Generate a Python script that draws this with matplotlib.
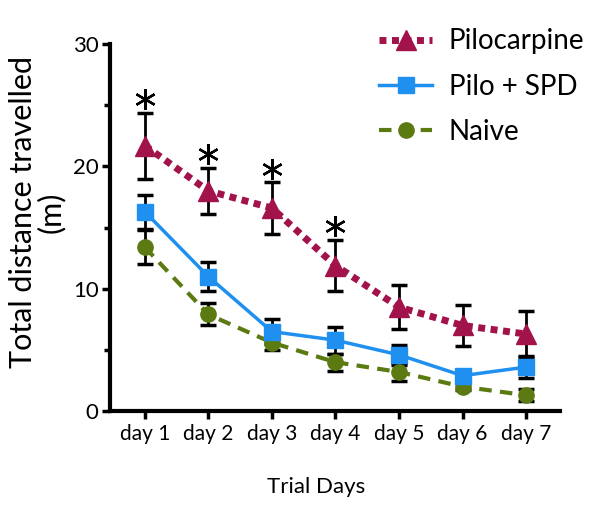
import matplotlib.pyplot as plt
import numpy as np

plt.rcParams['font.family'] = ['Lato', 'DejaVu Sans']

days = ['day 1', 'day 2', 'day 3', 'day 4', 'day 5', 'day 6', 'day 7']
pilo = [21.7, 18.0, 16.6, 11.9, 8.5, 7.0, 6.3]
pilo_err = [2.7, 1.9, 2.1, 2.1, 1.8, 1.7, 1.9]
spd = [16.3, 11.0, 6.5, 5.8, 4.6, 2.9, 3.6]
spd_err = [1.4, 1.2, 1.0, 1.1, 0.8, 0.5, 0.9]
naive = [13.4, 7.9, 5.6, 4.0, 3.2, 2.0, 1.3]
naive_err = [1.4, 0.9, 0.6, 0.7, 0.7, 0.3, 0.5]
signif = [True, True, True, True, False, False, False]

c_pilo = '#a3134b'
c_spd = '#1f8ff0'
c_naive = '#5b7a12'

fig = plt.figure(figsize=(6, 5.12), dpi=100)
ax = fig.add_axes([0.183, 0.197, 0.75, 0.717])
x = np.arange(1, len(days) + 1)

err_kw = dict(ecolor='black', elinewidth=2, capsize=6, capthick=2.5, zorder=2)
ax.errorbar(x, naive, yerr=naive_err, fmt='none', **err_kw)
ax.errorbar(x, spd, yerr=spd_err, fmt='none', **err_kw)
ax.errorbar(x, pilo, yerr=pilo_err, fmt='none', **err_kw)

ax.plot(x, naive, color=c_naive, linestyle=(0, (3, 2)), linewidth=3,
        marker='o', markersize=11, label='Naive', zorder=3)
ax.plot(x, spd, color=c_spd, linestyle='-', linewidth=2.5,
        marker='s', markersize=11, label='Pilo + SPD', zorder=4)
ax.plot(x, pilo, color=c_pilo, linestyle=(0, (1, 0.8)), linewidth=5,
        marker='^', markersize=15, label='Pilocarpine', zorder=5)

# significance stars above the pilocarpine error bars
sx = [xi for xi, s in zip(x, signif) if s]
sy = [v + e + 1.1 for v, e, s in zip(pilo, pilo_err, signif) if s]
ax.plot(sx, sy, linestyle='none', marker=(6, 2, 0), markersize=15,
        markeredgewidth=1.7, color='black', zorder=6)

ax.set_xlim(0.45, 7.53)
ax.set_ylim(0, 30)
ax.set_xticks(x)
ax.set_xticklabels(days, fontsize=15)
ax.set_yticks([0, 10, 20, 30])
ax.set_yticks([5, 15, 25], minor=True)
ax.tick_params(axis='y', labelsize=16, width=2.5, length=6, pad=2)
ax.tick_params(axis='y', which='minor', width=2.5, length=4)
ax.tick_params(axis='x', width=2.5, length=6)
for sp in ['top', 'right']:
    ax.spines[sp].set_visible(False)
for sp in ['left', 'bottom']:
    ax.spines[sp].set_linewidth(3)

ax.set_ylabel('Total distance travelled\n(m)', fontsize=22, linespacing=0.95)
ax.yaxis.set_label_coords(-0.1, 0.542)
ax.set_xlabel('Trial Days', fontsize=16)
ax.xaxis.set_label_coords(0.458, -0.18)

h, l = ax.get_legend_handles_labels()
ax.legend(h[::-1], l[::-1], loc='upper right', bbox_to_anchor=(1.11, 1.111),
          frameon=False, fontsize=20, handlelength=1.9, handletextpad=0.6,
          labelspacing=0.7)

fig.savefig('out.png', dpi=100)
